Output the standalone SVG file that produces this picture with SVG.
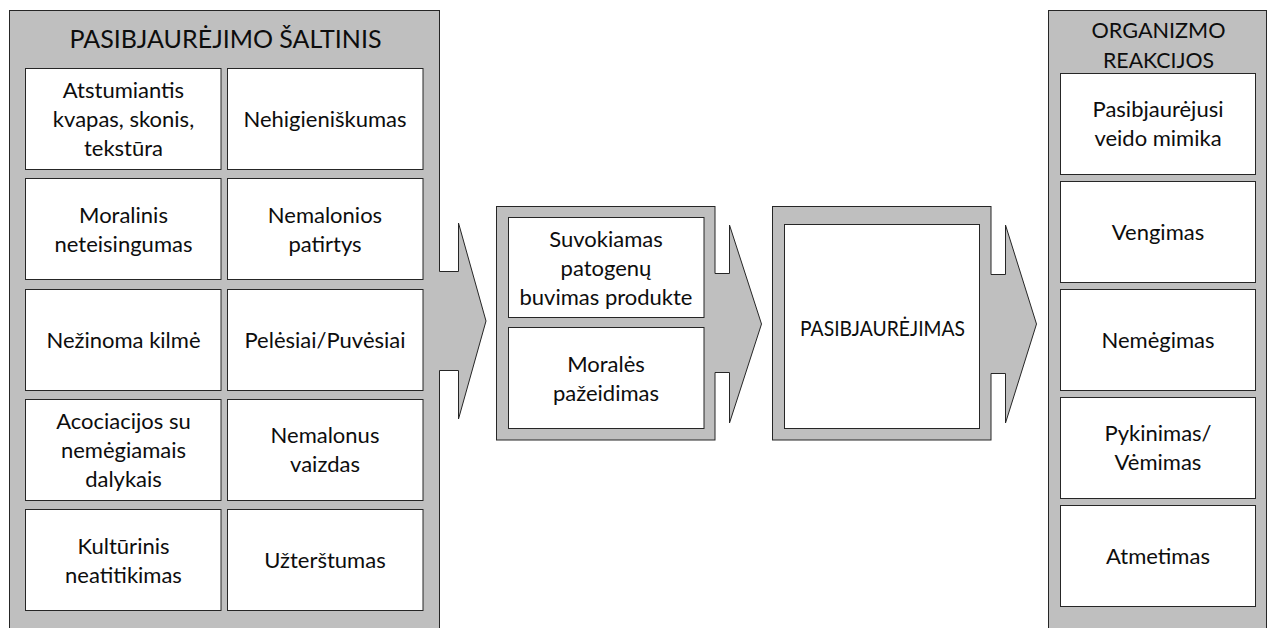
<svg xmlns="http://www.w3.org/2000/svg" width="1272" height="628" viewBox="0 0 1272 628">
  <style>
    .panel { fill: #BFBFBF; stroke: #262626; stroke-width: 1; }
    .box { fill: #FFFFFF; stroke: #262626; stroke-width: 1; }
    .arrow-fill { fill: #BFBFBF; stroke: none; }
    .arrow-line { fill: none; stroke: #262626; stroke-width: 1; stroke-linejoin: miter; }
    text { font-family: Lato, "Open Sans", "Liberation Sans", sans-serif; fill: #0D0D0D; text-anchor: middle; }
    .t { font-size: 22px; }
    .title { font-size: 25px; }
  </style>
  <rect width="1272" height="628" fill="#FFFFFF"/>

  <!-- Sources panel -->
  <g id="sources">
    <rect class="panel" x="9.5" y="10.5" width="430" height="640"/>
    <text class="title" x="225.5" y="47.5" textLength="312" lengthAdjust="spacingAndGlyphs">PASIBJAURĖJIMO ŠALTINIS</text>
  </g>

  <!-- Processing panels -->
  <g id="perception-panel">
    <rect class="panel" x="496.5" y="206.5" width="218.5" height="233.5"/>
  </g>
  <g id="disgust-panel">
    <rect class="panel" x="772.5" y="206.5" width="218.5" height="233.5"/>
  </g>

  <!-- Reactions panel -->
  <g id="reactions">
    <rect class="panel" x="1048.5" y="10.5" width="218" height="640"/>
    <text class="t" x="1158.5" y="38" textLength="134" lengthAdjust="spacingAndGlyphs">ORGANIZMO</text>
    <text class="t" x="1158.5" y="68" textLength="111" lengthAdjust="spacingAndGlyphs">REAKCIJOS</text>
  </g>

  <!-- Block arrows joined to the panels -->
  <g id="connectors">
    <polygon class="arrow-fill" points="437,271.5 458.5,271.5 458.5,223 486,321 458.5,419 458.5,370.5 437,370.5"/>
    <polyline class="arrow-line" points="439.5,271.5 458.5,271.5 458.5,223 486,321 458.5,419 458.5,370.5 439.5,370.5"/>

    <polygon class="arrow-fill" points="713,273.5 729.5,273.5 729.5,225 761.5,324 729.5,423 729.5,372.5 713,372.5"/>
    <polyline class="arrow-line" points="715,273.5 729.5,273.5 729.5,225 761.5,324 729.5,423 729.5,372.5 715,372.5"/>

    <polygon class="arrow-fill" points="989,274.5 1005.5,274.5 1005.5,225 1036.5,324 1005.5,423 1005.5,373.5 989,373.5"/>
    <polyline class="arrow-line" points="991,274.5 1005.5,274.5 1005.5,225 1036.5,324 1005.5,423 1005.5,373.5 991,373.5"/>
  </g>

  <!-- Source cells, left column -->
  <g id="src-atstumiantis">
    <rect class="box" x="25.5" y="68.5" width="195.5" height="101"/>
    <text class="t" x="123.5" y="97.5">Atstumiantis</text>
    <text class="t" x="123.5" y="126.5">kvapas, skonis,</text>
    <text class="t" x="123.5" y="155.5">tekstūra</text>
  </g>
  <g id="src-moralinis">
    <rect class="box" x="25.5" y="178.5" width="195.5" height="101"/>
    <text class="t" x="123.5" y="222.5">Moralinis</text>
    <text class="t" x="123.5" y="251.5">neteisingumas</text>
  </g>
  <g id="src-kilme">
    <rect class="box" x="25.5" y="289.5" width="195.5" height="101"/>
    <text class="t" x="123.5" y="348">Nežinoma kilmė</text>
  </g>
  <g id="src-asociacijos">
    <rect class="box" x="25.5" y="399.5" width="195.5" height="101"/>
    <text class="t" x="123.5" y="428.5">Acociacijos su</text>
    <text class="t" x="123.5" y="457.5">nemėgiamais</text>
    <text class="t" x="123.5" y="486.5">dalykais</text>
  </g>
  <g id="src-kulturinis">
    <rect class="box" x="25.5" y="509.5" width="195.5" height="101"/>
    <text class="t" x="123.5" y="553.5">Kultūrinis</text>
    <text class="t" x="123.5" y="582.5">neatitikimas</text>
  </g>

  <!-- Source cells, right column -->
  <g id="src-nehigieniskumas">
    <rect class="box" x="227.5" y="68.5" width="195.5" height="101"/>
    <text class="t" x="325" y="127">Nehigieniškumas</text>
  </g>
  <g id="src-patirtys">
    <rect class="box" x="227.5" y="178.5" width="195.5" height="101"/>
    <text class="t" x="325" y="222.5">Nemalonios</text>
    <text class="t" x="325" y="251.5">patirtys</text>
  </g>
  <g id="src-pelesiai">
    <rect class="box" x="227.5" y="289.5" width="195.5" height="101"/>
    <text class="t" x="325" y="348">Pelėsiai/Puvėsiai</text>
  </g>
  <g id="src-vaizdas">
    <rect class="box" x="227.5" y="399.5" width="195.5" height="101"/>
    <text class="t" x="325" y="443">Nemalonus</text>
    <text class="t" x="325" y="472">vaizdas</text>
  </g>
  <g id="src-uzterstumas">
    <rect class="box" x="227.5" y="509.5" width="195.5" height="101"/>
    <text class="t" x="325" y="568">Užterštumas</text>
  </g>

  <!-- Perception cells -->
  <g id="perc-patogenai">
    <rect class="box" x="508.5" y="217.5" width="195.5" height="100"/>
    <text class="t" x="606" y="246.5">Suvokiamas</text>
    <text class="t" x="606" y="275.5">patogenų</text>
    <text class="t" x="606" y="304.5">buvimas produkte</text>
  </g>
  <g id="perc-morale">
    <rect class="box" x="508.5" y="327.5" width="195.5" height="101"/>
    <text class="t" x="606" y="371.5">Moralės</text>
    <text class="t" x="606" y="400.5">pažeidimas</text>
  </g>

  <!-- Disgust cell -->
  <g id="disgust">
    <rect class="box" x="784.5" y="224.5" width="195" height="204"/>
    <text class="t" x="882.5" y="336" textLength="165" lengthAdjust="spacingAndGlyphs">PASIBJAURĖJIMAS</text>
  </g>

  <!-- Reaction cells -->
  <g id="react-mimika">
    <rect class="box" x="1060.5" y="73.5" width="195" height="101"/>
    <text class="t" x="1158" y="117">Pasibjaurėjusi</text>
    <text class="t" x="1158" y="146">veido mimika</text>
  </g>
  <g id="react-vengimas">
    <rect class="box" x="1060.5" y="181.5" width="195" height="101"/>
    <text class="t" x="1158" y="240">Vengimas</text>
  </g>
  <g id="react-nemegimas">
    <rect class="box" x="1060.5" y="289.5" width="195" height="101"/>
    <text class="t" x="1158" y="348">Nemėgimas</text>
  </g>
  <g id="react-pykinimas">
    <rect class="box" x="1060.5" y="397.5" width="195" height="101"/>
    <text class="t" x="1158" y="441">Pykinimas/</text>
    <text class="t" x="1158" y="470">Vėmimas</text>
  </g>
  <g id="react-atmetimas">
    <rect class="box" x="1060.5" y="505.5" width="195" height="101"/>
    <text class="t" x="1158" y="564">Atmetimas</text>
  </g>
</svg>
